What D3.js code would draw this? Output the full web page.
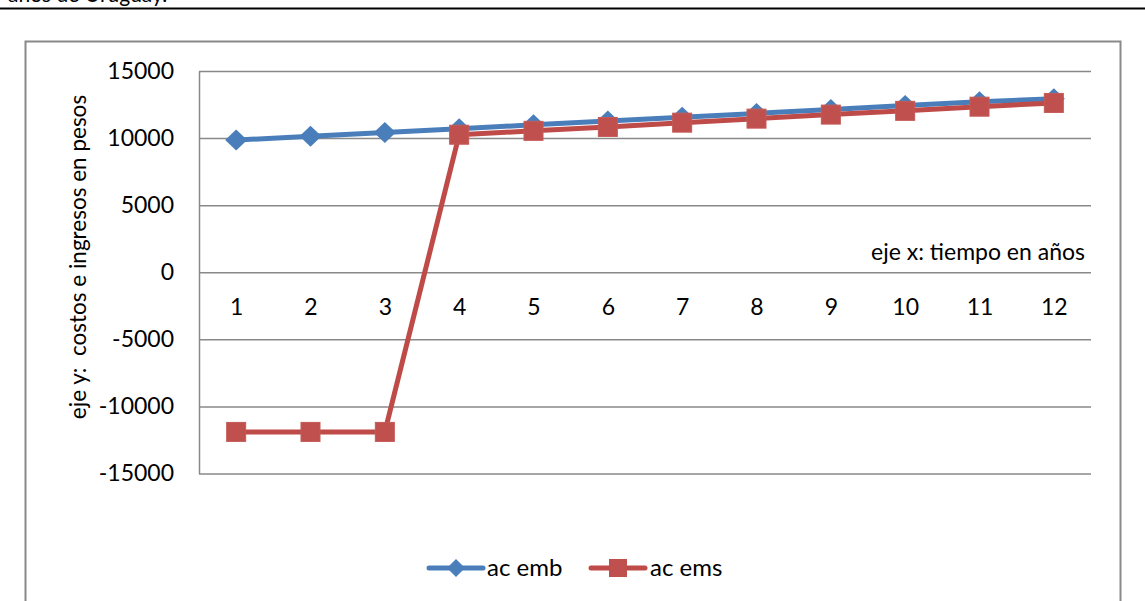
<!DOCTYPE html>
<html>
<head>
<meta charset="utf-8">
<script src="https://cdn.jsdelivr.net/npm/d3@7"></script>
<style>
  body { margin: 0; background: #fff; }
  svg { display: block; font-family: Lato, "Open Sans", sans-serif; }
</style>
</head>
<body>
<div id="chart"></div>
<script>
var years = ["1", "2", "3", "4", "5", "6", "7", "8", "9", "10", "11", "12"];
var acEmb = [9850, 10130, 10410, 10700, 10990, 11270, 11560, 11840, 12130, 12420, 12700, 12930];
var acEms = [-11900, -11900, -11900, 10250, 10540, 10830, 11150, 11450, 11750, 12030, 12340, 12620];
var yTicks = [-15000, -10000, -5000, 0, 5000, 10000, 15000];
var seriesNames = ["ac emb", "ac ems"];

var svgWidth = 1145;
var svgHeight = 601;

var plot = { left: 199, top: 71, right: 1091, bottom: 473.5 };
var width = plot.right - plot.left;
var height = plot.bottom - plot.top;

var blue = "#4a7ebb";
var red = "#be4b48";
var grid = "#898989";

var svg = d3.select("#chart")
  .append("svg")
  .attr("width", svgWidth)
  .attr("height", svgHeight);

// cut-off caption of the surrounding document
svg.append("text")
  .attr("x", 8)
  .attr("y", 2)
  .attr("font-size", "21px")
  .attr("fill", "#000")
  .text("años de Uruguay.");

svg.append("line")
  .attr("x1", 0).attr("x2", svgWidth)
  .attr("y1", 8.5).attr("y2", 8.5)
  .attr("stroke", "#000")
  .attr("stroke-width", 2);

// chart area frame
svg.append("rect")
  .attr("x", 25.5)
  .attr("y", 41.5)
  .attr("width", 1095)
  .attr("height", 620)
  .attr("fill", "none")
  .attr("stroke", grid)
  .attr("stroke-width", 2);

var chartGroup = svg.append("g")
  .attr("transform", `translate(${plot.left}, ${plot.top})`);

var xScale = d3.scalePoint()
  .domain(years)
  .range([0, width])
  .padding(0.5);

var yScale = d3.scaleLinear()
  .domain([-15000, 15000])
  .range([height, 0]);

var yAxis = d3.axisLeft(yScale)
  .tickValues(yTicks)
  .tickFormat(d => String(d))
  .tickSize(-width)
  .tickSizeOuter(0)
  .tickPadding(25);

var yAxisG = chartGroup.append("g")
  .attr("class", "y axis")
  .call(yAxis);

yAxisG.selectAll(".tick line")
  .attr("stroke", grid)
  .attr("stroke-width", 1.5);
yAxisG.select(".domain")
  .attr("stroke", grid)
  .attr("stroke-width", 1.5);
yAxisG.selectAll("text")
  .attr("font-size", "23px")
  .attr("font-family", "Lato")
  .attr("fill", "#000");

var xAxis = d3.axisBottom(xScale)
  .tickSize(0)
  .tickPadding(26);

var xAxisG = chartGroup.append("g")
  .attr("class", "x axis")
  .attr("transform", `translate(0, ${yScale(0)})`)
  .call(xAxis);

xAxisG.select(".domain").remove();
xAxisG.selectAll("text")
  .attr("font-size", "23px")
  .attr("font-family", "Lato")
  .attr("fill", "#000");

// axis titles
chartGroup.append("text")
  .attr("x", width - 6)
  .attr("y", yScale(0) - 12)
  .attr("text-anchor", "end")
  .attr("font-size", "23px")
  .attr("fill", "#000")
  .text("eje x: tiempo en años");

svg.append("text")
  .attr("transform", "translate(86, 257) rotate(-90)")
  .attr("text-anchor", "middle")
  .attr("font-size", "22.5px")
  .attr("fill", "#000")
  .style("white-space", "pre")
  .attr("xml:space", "preserve")
  .text("eje y:  costos e ingresos en pesos");

// series
var line = d3.line()
  .x((d, i) => xScale(years[i]))
  .y(d => yScale(d));

chartGroup.append("path")
  .datum(acEmb)
  .attr("fill", "none")
  .attr("stroke", blue)
  .attr("stroke-width", 5)
  .attr("stroke-linejoin", "round")
  .attr("d", line);

chartGroup.selectAll(".embMarker")
  .data(acEmb)
  .enter()
  .append("path")
  .attr("class", "embMarker")
  .attr("transform", (d, i) => `translate(${xScale(years[i])}, ${yScale(d)})`)
  .attr("d", "M0,-10.5L11,0L0,10.5L-11,0Z")
  .attr("fill", blue);

chartGroup.append("path")
  .datum(acEms)
  .attr("fill", "none")
  .attr("stroke", red)
  .attr("stroke-width", 5)
  .attr("stroke-linejoin", "round")
  .attr("d", line);

chartGroup.selectAll(".emsMarker")
  .data(acEms)
  .enter()
  .append("rect")
  .attr("class", "emsMarker")
  .attr("x", (d, i) => xScale(years[i]) - 9.5)
  .attr("y", d => yScale(d) - 9.5)
  .attr("width", 19)
  .attr("height", 19)
  .attr("fill", "#c0504d")
  .attr("stroke", "#c55a57")
  .attr("stroke-width", 1);

// legend
var legendY = 568;
var legend = svg.append("g");

var legendItems = [
  { name: seriesNames[0], color: blue, x: 429 },
  { name: seriesNames[1], color: red, x: 591 }
];

legendItems.forEach((item, k) => {
  var g = legend.append("g")
    .attr("transform", `translate(${item.x}, ${legendY})`);
  g.append("line")
    .attr("x1", 0).attr("x2", 54)
    .attr("stroke", item.color)
    .attr("stroke-width", 5)
    .attr("stroke-linecap", "round");
  if (k === 0) {
    g.append("path")
      .attr("d", "M27,-9L36,0L27,9L18,0Z")
      .attr("fill", item.color);
  } else {
    g.append("rect")
      .attr("x", 18).attr("y", -9)
      .attr("width", 18).attr("height", 18)
      .attr("fill", "#c0504d");
  }
  g.append("text")
    .attr("x", k === 0 ? 58 : 59)
    .attr("y", 8)
    .attr("font-size", "24px")
    .attr("fill", "#000")
    .text(item.name);
});
</script>
</body>
</html>
